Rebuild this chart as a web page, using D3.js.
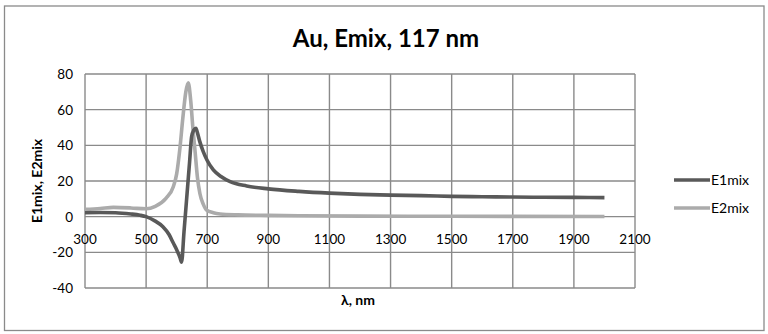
<!DOCTYPE html>
<html>
<head>
<meta charset="utf-8">
<script src="https://cdn.jsdelivr.net/npm/d3@7"></script>
<style>
  body { margin: 0; background: #fff; }
  text { font-family: Lato, "Open Sans", sans-serif; fill: #000; }
</style>
</head>
<body>
<div id="chart"></div>
<script>
// Au, Emix, 117 nm

// E1mix (dark) - wavelength / value
const e1Wave = [300, 350, 400, 450, 480, 500, 530, 555, 575, 589, 600, 611, 616, 624, 632, 642, 649, 656, 663, 668, 675, 687, 700, 720, 745, 775, 829, 900, 1000, 1100, 1200, 1300, 1400, 1500, 1600, 1700, 1800, 1900, 2000];
const e1Vals = [2.2, 2.3, 2.2, 1.5, 0.8, 0, -2.5, -5.6, -10, -14.8, -18.5, -23, -25.6, -8.5, 8.6, 30, 44.9, 48.5, 49.6, 47, 42.5, 36.5, 31.5, 26.2, 22.5, 19.6, 17.2, 15.6, 14.2, 13.2, 12.5, 12.1, 11.8, 11.4, 11.2, 11, 10.9, 10.8, 10.7];

// E2mix (light)
const e2Wave = [300, 350, 393, 450, 500, 530, 565, 589, 600, 611, 620, 630, 638, 646, 653, 660, 668, 676, 687, 698, 720, 742, 800, 900, 1000, 1200, 1500, 2000];
const e2Vals = [4.1, 4.6, 5.2, 4.9, 4.4, 5.8, 10.3, 16.8, 24, 39, 55, 70, 75, 65, 50, 37, 22, 13, 7, 3.7, 2.2, 1.5, 1, 0.7, 0.5, 0.3, 0.2, 0.1];

const xTicks = [300, 500, 700, 900, 1100, 1300, 1500, 1700, 1900, 2100];
const yTicks = [-40, -20, 0, 20, 40, 60, 80];

const seriesNames = ["E1mix", "E2mix"];
const seriesColors = ["#595959", "#ababab"];

const W = 768, H = 334;
const plot = {left: 85, right: 635, top: 74, bottom: 288};

const svg = d3.select("#chart").append("svg")
    .attr("width", W)
    .attr("height", H);

// outer frame
svg.append("rect")
    .attr("x", 4.5).attr("y", 6)
    .attr("width", 759.5).attr("height", 324.5)
    .attr("fill", "#fff")
    .attr("stroke", "#8a8a8a")
    .attr("stroke-width", 1.3);

const x = d3.scaleLinear().domain([300, 2100]).range([plot.left, plot.right]);
const y = d3.scaleLinear().domain([-40, 80]).range([plot.bottom, plot.top]);

// gridlines
svg.append("g")
    .selectAll("line")
    .data(xTicks)
    .enter().append("line")
    .attr("x1", d => x(d)).attr("x2", d => x(d))
    .attr("y1", plot.top).attr("y2", plot.bottom)
    .attr("stroke", "#8a8a8a").attr("stroke-width", 1.4);

svg.append("g")
    .selectAll("line")
    .data(yTicks)
    .enter().append("line")
    .attr("x1", plot.left).attr("x2", plot.right)
    .attr("y1", d => y(d)).attr("y2", d => y(d))
    .attr("stroke", "#8a8a8a").attr("stroke-width", 1.4);

// y tick labels
svg.append("g")
    .selectAll("text")
    .data(yTicks)
    .enter().append("text")
    .attr("x", plot.left - 12)
    .attr("y", d => y(d) + 5)
    .attr("text-anchor", "end")
    .attr("font-size", 13.5)
    .text(d => d);

// x tick labels sit below the zero line
svg.append("g")
    .selectAll("text")
    .data(xTicks)
    .enter().append("text")
    .attr("x", d => x(d))
    .attr("y", y(0) + 27)
    .attr("text-anchor", "middle")
    .attr("font-size", 13.5)
    .text(d => d);

// lines
const line = d3.line()
    .x(d => x(d[0]))
    .y(d => y(d[1]))
    .curve(d3.curveMonotoneX);

const series = [
    d3.zip(e1Wave, e1Vals),
    d3.zip(e2Wave, e2Vals)
];

// light series first so the dark one is on top
[1, 0].forEach(function(i){
    svg.append("path")
        .datum(series[i])
        .attr("d", line)
        .attr("fill", "none")
        .attr("stroke", seriesColors[i])
        .attr("stroke-width", 3.6)
        .attr("stroke-linejoin", "round");
});

// title
svg.append("text")
    .attr("x", 386).attr("y", 47)
    .attr("text-anchor", "middle")
    .attr("font-size", 24)
    .attr("font-weight", "bold")
    .text("Au, Emix, 117 nm");

// axis titles
svg.append("text")
    .attr("transform", "translate(42," + ((plot.top + plot.bottom) / 2) + ") rotate(-90)")
    .attr("text-anchor", "middle")
    .attr("font-size", 14)
    .attr("font-weight", "bold")
    .text("E1mix, E2mix");

svg.append("text")
    .attr("x", 358).attr("y", 305)
    .attr("text-anchor", "middle")
    .attr("font-size", 14)
    .attr("font-weight", "bold")
    .text("λ, nm");

// legend
const legend = svg.append("g")
    .selectAll("g")
    .data(seriesNames)
    .enter().append("g")
    .attr("transform", (d, i) => "translate(674," + (180 + i * 28) + ")");

legend.append("line")
    .attr("x1", 0).attr("x2", 36)
    .attr("stroke", (d, i) => seriesColors[i])
    .attr("stroke-width", 3.6);

legend.append("text")
    .attr("x", 37).attr("y", 5)
    .attr("font-size", 14)
    .text(d => d);
</script>
</body>
</html>
